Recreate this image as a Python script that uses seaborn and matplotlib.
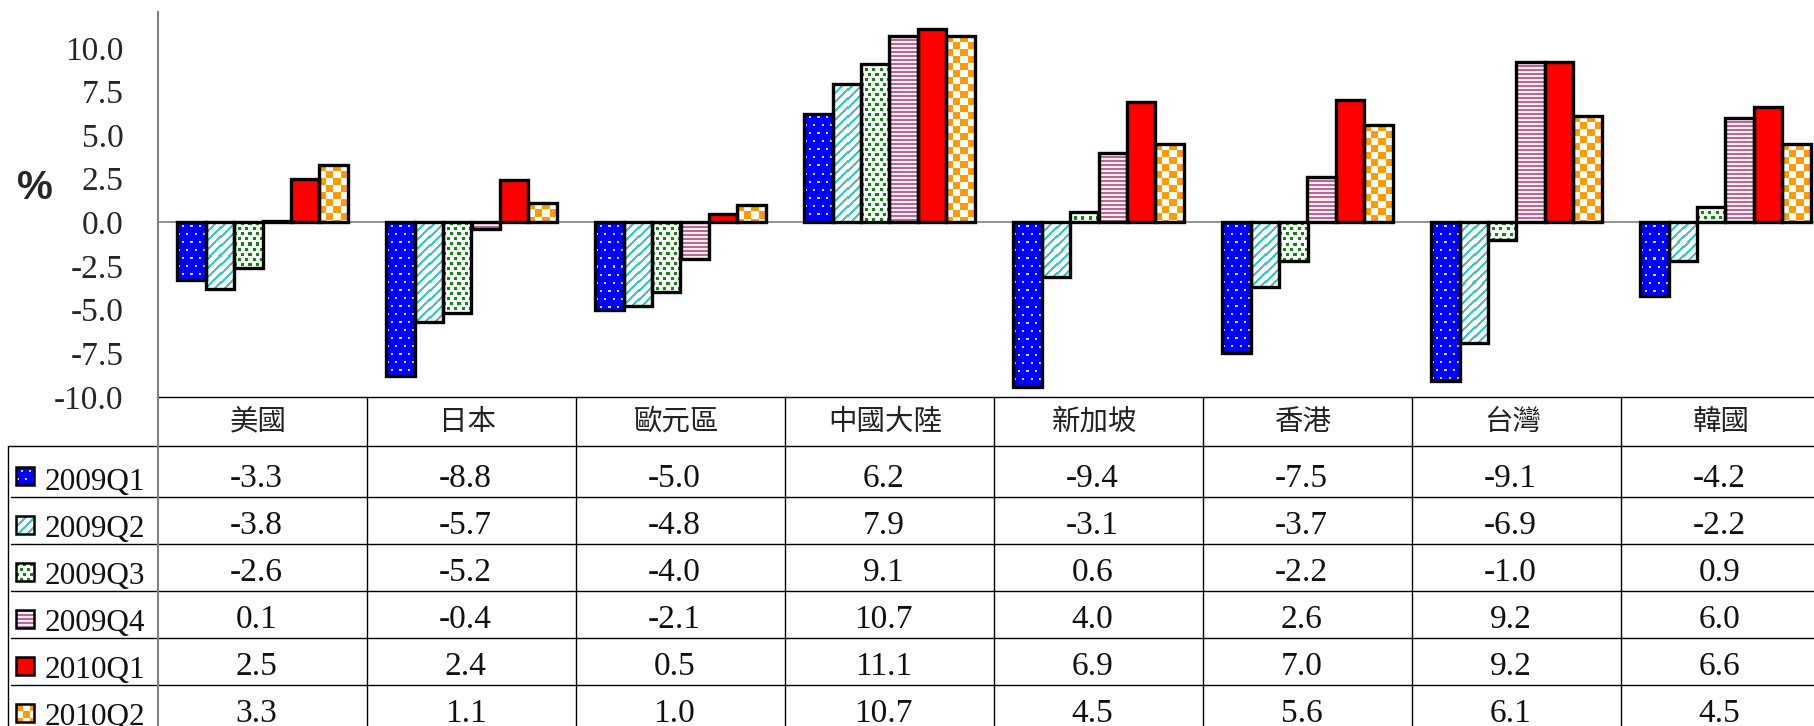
import numpy as np
import pandas as pd
import matplotlib
matplotlib.use("Agg")
import matplotlib.pyplot as plt
from matplotlib.patches import Rectangle
from matplotlib.lines import Line2D
from matplotlib.colors import to_rgb
import seaborn as sns

# ---------------- data ----------------
regions = ['美國', '日本', '歐元區', '中國大陸', '新加坡', '香港', '台灣', '韓國']
quarters = ['2009Q1', '2009Q2', '2009Q3', '2009Q4', '2010Q1', '2010Q2']
q2009_1 = [-3.3, -8.8, -5.0, 6.2, -9.4, -7.5, -9.1, -4.2]
q2009_2 = [-3.8, -5.7, -4.8, 7.9, -3.1, -3.7, -6.9, -2.2]
q2009_3 = [-2.6, -5.2, -4.0, 9.1, 0.6, -2.2, -1.0, 0.9]
q2009_4 = [0.1, -0.4, -2.1, 10.7, 4.0, 2.6, 9.2, 6.0]
q2010_1 = [2.5, 2.4, 0.5, 11.1, 6.9, 7.0, 9.2, 6.6]
q2010_2 = [3.3, 1.1, 1.0, 10.7, 4.5, 5.6, 6.1, 4.5]
series = [q2009_1, q2009_2, q2009_3, q2009_4, q2010_1, q2010_2]
ytick_values = [-10.0, -7.5, -5.0, -2.5, 0.0, 2.5, 5.0, 7.5, 10.0]
ytick_labels = ['-10.0', '-7.5', '-5.0', '-2.5', '0.0', '2.5', '5.0', '7.5', '10.0']
ylabel = '%'

df = pd.DataFrame({
    'region': np.repeat([regions], len(quarters), axis=0).ravel(),
    'quarter': np.repeat(quarters, len(regions)),
    'value': np.concatenate(series),
})

# ---------------- style ----------------
sns.set_style('white')
plt.rcParams['font.family'] = ['Liberation Serif', 'Noto Sans CJK TC', 'DejaVu Sans']
plt.rcParams['axes.unicode_minus'] = False

pattern_of = {'2009Q1': 'bluedots', '2009Q2': 'stripes', '2009Q3': 'greensq',
              '2009Q4': 'hlines', '2010Q1': 'red', '2010Q2': 'checker'}


def texture(kind, h, w):
    """Fill pattern rendered at (roughly) one texel per output pixel."""
    h, w = max(int(h), 1), max(int(w), 1)
    i, j = np.mgrid[0:h, 0:w]
    rgb = np.ones((h, w, 3))
    if kind == 'bluedots':
        rgb[:] = to_rgb('#0000FF')
        m = ((i % 8) >= 3) & ((i % 8) < 5) & (((j + 4 * ((i // 8) % 2) + 3) % 8) < 2)
        rgb[m] = to_rgb('#D8D8FF')
    elif kind == 'stripes':
        m = ((i + j) % 9) < 3
        rgb[m] = to_rgb('#3CC8C8')
    elif kind == 'greensq':
        r = i // 5
        m = ((i % 5) < 3) & (((j + 3 * (r % 2)) % 7) < 3)
        rgb[m] = to_rgb('#0A8A0A')
    elif kind == 'hlines':
        rgb[:] = to_rgb('#FAEAF2')
        m = (i % 4) < 2
        rgb[m] = to_rgb('#B46A92')
    elif kind == 'red':
        rgb[:] = to_rgb('#FF0000')
    elif kind == 'checker':
        m = (((i // 7) + (j // 7)) % 2) == 0
        rgb[m] = to_rgb('#FF9A00')
    return rgb


W, H = 1814, 726
X0, CW = 158, 209
Y_TOP, Y_BOT = 12, 397
fig = plt.figure(figsize=(W / 100, H / 100), dpi=100)
ax = fig.add_axes([X0 / W, (H - Y_BOT) / H, 8 * CW / W, (Y_BOT - Y_TOP) / H])

sns.barplot(data=df, x='region', y='value', hue='quarter', hue_order=quarters,
            order=regions, width=0.815, saturation=1, errorbar=None,
            legend=False, ax=ax, zorder=3)

ax.set_xlim(-0.5, len(regions) - 0.5)
ax.set_ylim(-10, 12.05)
ax.axhline(0, color='#808080', lw=1.2, zorder=2)

fig.canvas.draw()
for cont, q in zip(ax.containers, quarters):
    for p in cont.patches:
        p.set_linewidth(0)
        p.set_facecolor('white')
        bx0, bx1 = sorted([p.get_x(), p.get_x() + p.get_width()])
        by0, by1 = sorted([p.get_y(), p.get_y() + p.get_height()])
        (px0, py0), (px1, py1) = ax.transData.transform([[bx0, by0], [bx1, by1]])
        tex = texture(pattern_of[q], round(abs(py1 - py0)), round(abs(px1 - px0)))
        im = ax.imshow(tex, extent=(bx0, bx1, by0, by1), origin='upper',
                       interpolation='nearest', aspect='auto', zorder=3.2)
        im.set_clip_path(p)
        ax.add_patch(Rectangle(p.get_xy(), p.get_width(), p.get_height(), fill=False,
                               ec='black', lw=2.4, zorder=3.5))

ax.set_xlim(-0.5, len(regions) - 0.5)
ax.set_ylim(-10, 12.05)
ax.set_yticks(ytick_values, labels=ytick_labels)
ax.set_xticks([])
ax.set_xlabel('')
ax.set_ylabel('')
ax.tick_params(axis='y', direction='in', length=6.5, width=1, color='#808080',
               labelsize=24, pad=25)
for s in ['top', 'right', 'bottom']:
    ax.spines[s].set_visible(False)
ax.spines['left'].set_color('#808080')
ax.spines['left'].set_linewidth(1.5)

# ---------------- data table (pixel layout) ----------------
tx = fig.add_axes([0, 0, 1, 1], zorder=5)
tx.set_xlim(0, W)
tx.set_ylim(H, 0)
tx.axis('off')
tx.patch.set_alpha(0)

XR = X0 + 8 * CW
row_top = 446
row_bounds = [row_top, row_top + 50.7] + [row_top + 50.7 + 47 * k for k in range(1, 6)]

lk = dict(color='black', lw=1.0)
tx.add_line(Line2D([X0, XR], [Y_BOT, Y_BOT], **lk))
tx.add_line(Line2D([8, XR], [row_top, row_top], **lk))
for yb in row_bounds[1:]:
    tx.add_line(Line2D([11, XR], [yb, yb], **lk))
tx.add_line(Line2D([8, 8], [row_top, H + 10], **lk))
tx.add_line(Line2D([X0, X0], [Y_BOT, H + 10], color='#808080', lw=1.5))
for k in range(1, 8):
    tx.add_line(Line2D([X0 + k * CW, X0 + k * CW], [Y_BOT, H + 10], **lk))

for j, r in enumerate(regions):
    tx.text(X0 + (j + 0.5) * CW - 4, (Y_BOT + row_top) / 2, r, ha='center', va='center',
            fontsize=20.5, family=['Noto Sans CJK TC', 'DejaVu Sans'], color='#222222')

for i, (q, vals) in enumerate(zip(quarters, series)):
    yb = row_bounds[i + 1]
    yc = (row_bounds[i] + yb) / 2 + 5
    # legend swatch
    sw = Rectangle((16, yc - 9), 18, 18, facecolor='white', lw=0, zorder=6)
    tx.add_patch(sw)
    im = tx.imshow(texture(pattern_of[q], 18, 18), extent=(16, 34, yc + 9, yc - 9),
                   origin='upper', interpolation='nearest', aspect='auto', zorder=6.2)
    im.set_clip_path(sw)
    tx.add_patch(Rectangle((16, yc - 9), 18, 18, fill=False, ec='black', lw=1.8, zorder=7))
    tx.text(45, yb - 7, q, ha='left', va='baseline', fontsize=22.5, color='#111111')
    for j, v in enumerate(vals):
        tx.text(X0 + (j + 0.5) * CW - 6, yb - 9.5, f'{v:.1f}', ha='center',
                va='baseline', fontsize=24, color='#111111')

tx.set_xlim(0, W)
tx.set_ylim(H, 0)

fig.text(35 / W, 1 - 188 / H, ylabel, ha='center', va='center', fontsize=29,
         fontweight='bold', family=['Liberation Sans', 'DejaVu Sans'])

fig.savefig('out.png', dpi=100)
